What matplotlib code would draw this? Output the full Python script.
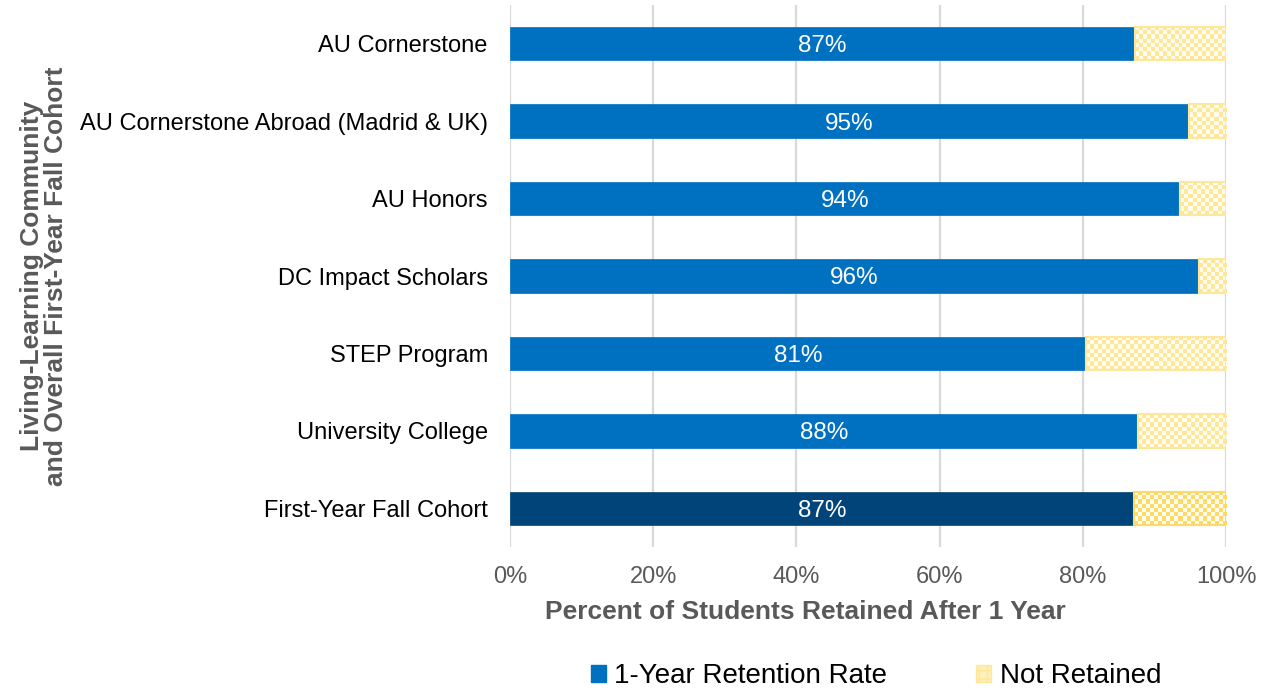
import numpy as np
import matplotlib
matplotlib.use("Agg")
import matplotlib.pyplot as plt
from matplotlib.patches import Patch

plt.rcParams['font.family'] = ['Liberation Sans', 'DejaVu Sans']

categories = ["AU Cornerstone", "AU Cornerstone Abroad (Madrid & UK)", "AU Honors",
              "DC Impact Scholars", "STEP Program", "University College",
              "First-Year Fall Cohort"]
retained = [0.873, 0.948, 0.936, 0.962, 0.804, 0.877, 0.871]
labels = ["87%", "95%", "94%", "96%", "81%", "88%", "87%"]
xticks = [0, 0.2, 0.4, 0.6, 0.8, 1.0]
xticklabels = ["0%", "20%", "40%", "60%", "80%", "100%"]

blue = "#0070C0"
navy = "#004479"
fig = plt.figure(figsize=(12.61, 6.93), dpi=100)
ax = fig.add_axes([510/1261, 1-547/693, 716/1261, 542/693])

n = len(categories)
ypos = np.arange(n)[::-1]
h = 0.43
for i, (y, v, lab) in enumerate(zip(ypos, retained, labels)):
    last = (i == n - 1)
    c = navy if last else blue
    ax.barh(y, v, height=h, color=c, edgecolor=c, linewidth=0.5, zorder=3)
    ax.text(v/2, y, lab, ha='center', va='center_baseline', color='white', fontsize=17.5, zorder=5)
    ycol = "#FFD966" if last else "#FFE699"
    bars = ax.barh(y, 1 - v, left=v, height=h, facecolor='none', edgecolor=ycol, linewidth=1.5, zorder=4)
    patch = bars.patches[0]
    wpx = (1 - v) * 716
    nx = max(1, int(round(wpx / 4)))
    ny = int(round(33 / 4))
    xx, yy = np.meshgrid(np.arange(nx), np.arange(ny))
    chk = (xx + yy) % 2
    light = np.array(matplotlib.colors.to_rgb(ycol))
    white = np.array(matplotlib.colors.to_rgb("#FFFCF0"))
    img = np.where(chk[..., None] == 1, light, white)
    im = ax.imshow(img, extent=[v, 1, y - h/2, y + h/2], interpolation='nearest',
                   aspect='auto', zorder=3.5)
    im.set_clip_path(patch)

ax.set_xlim(0, 1)
ax.set_ylim(-0.5, n - 0.5)
ax.set_aspect('auto')
ax.set_yticks(ypos)
ax.set_yticklabels(categories, fontsize=17, color='black')
ax.set_xticks(xticks)
ax.set_xticklabels(xticklabels, fontsize=17, color='#595959')
ax.tick_params(axis='y', length=0, pad=16)
ax.tick_params(axis='x', length=0, pad=14)
ax.grid(axis='x', color='#D9D9D9', linewidth=1.6, zorder=0)
ax.set_axisbelow(True)
for s in ax.spines.values():
    s.set_visible(False)

fig.text(805/1261, 1-612/693, "Percent of Students Retained After 1 Year", fontsize=19,
         fontweight='bold', color='#595959', ha='center', va='center')
fig.text(44/1261, 1-276/693, "Living-Learning Community\nand Overall First-Year Fall Cohort",
         rotation=90, ha='center', va='center', fontsize=19, fontweight='bold',
         color='#595959', linespacing=1.0)

handles = [Patch(facecolor=blue, edgecolor=blue),
           Patch(facecolor='#FFF0B8', edgecolor='#FFE699', hatch='++')]
fig.legend(handles, ["1-Year Retention Rate", "Not Retained"], loc='center',
           bbox_to_anchor=(876/1261, 1-676/693), ncol=2, frameon=False, fontsize=20,
           handlelength=0.55, handleheight=0.55, handletextpad=0.3, columnspacing=3.2)

fig.savefig("out.png", dpi=100)
